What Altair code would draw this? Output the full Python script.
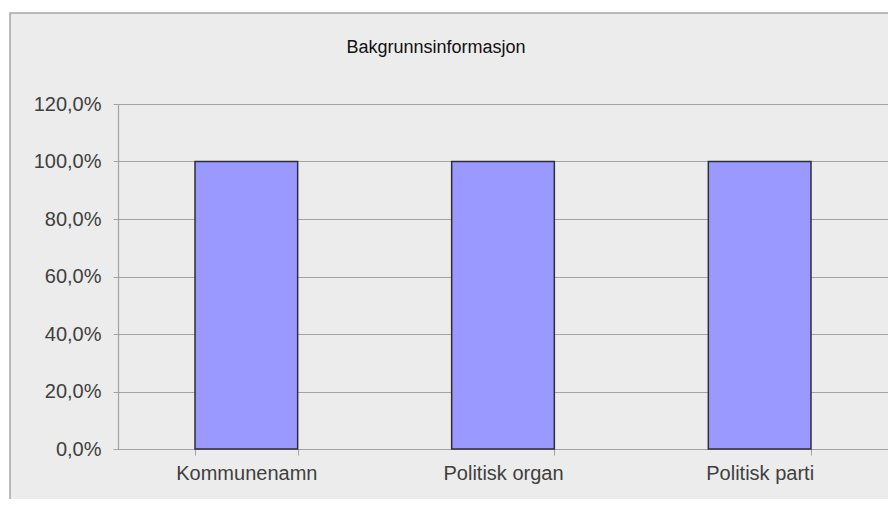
import altair as alt
import pandas as pd

categories = ["Kommunenamn", "Politisk organ", "Politisk parti"]
values = [1.0, 1.0, 1.0]
y_ticks = [0.0, 0.2, 0.4, 0.6, 0.8, 1.0, 1.2]
title_text = "Bakgrunnsinformasjon"

df = pd.DataFrame({"kategori": categories, "andel": values})

FONT = "Liberation Sans"
GRID = "#a3a3a3"
TEXT = "#404040"
PANEL = "#ececec"

one = alt.Data(values=[{}])

# white page margin outside the panel border (top and left strips)
margin_top = alt.Chart(one).mark_rect(fill="white").encode(
    x=alt.value(-112), x2=alt.value(900), y=alt.value(-98), y2=alt.value(-91)
)
margin_left = alt.Chart(one).mark_rect(fill="white").encode(
    x=alt.value(-112), x2=alt.value(-108), y=alt.value(-98), y2=alt.value(600)
)
border = alt.Chart(one).mark_rect(
    fillOpacity=0, stroke="#a6a6a6", strokeWidth=1.5
).encode(
    x=alt.value(-108), x2=alt.value(900), y=alt.value(-91), y2=alt.value(600)
)

title = alt.Chart(one).mark_text(
    font=FONT, fontSize=18, color="#111111", align="center", baseline="middle"
).encode(
    x=alt.value(318), y=alt.value(-56), text=alt.value(title_text)
)

bars = alt.Chart(df).mark_bar(
    fill="#9999ff", stroke="#2e2e3a", strokeWidth=1.5
).encode(
    x=alt.X(
        "kategori:N",
        sort=categories,
        title=None,
        scale=alt.Scale(paddingInner=0.6, paddingOuter=0.3),
        axis=alt.Axis(
            labelAngle=0,
            labelFont=FONT,
            labelFontSize=20,
            labelColor=TEXT,
            labelPadding=8,
            domainColor=GRID,
            domainWidth=1.2,
            tickColor=GRID,
            tickSize=6,
            tickBand="extent",
            grid=False,
        ),
    ),
    y=alt.Y(
        "andel:Q",
        title=None,
        scale=alt.Scale(domain=[0, 1.2], nice=False),
        axis=alt.Axis(
            values=y_ticks,
            labelExpr="replace(format(datum.value, '.1%'), '.', ',')",
            labelFont=FONT,
            labelFontSize=20,
            labelColor=TEXT,
            labelPadding=12,
            domainColor=GRID,
            domainWidth=1.2,
            tickColor=GRID,
            tickSize=5,
            gridColor=GRID,
            gridWidth=1.2,
        ),
    ),
)

chart = alt.layer(margin_top, margin_left, border, title, bars).properties(
    width=770,
    height=345,
    autosize=alt.AutoSizeParams(type="none"),
    padding={"left": 110, "top": 96, "right": 0, "bottom": 50},
    background=PANEL,
).configure_view(stroke=None)

chart.save("out.html", embed_options={"renderer": "svg", "actions": False})
